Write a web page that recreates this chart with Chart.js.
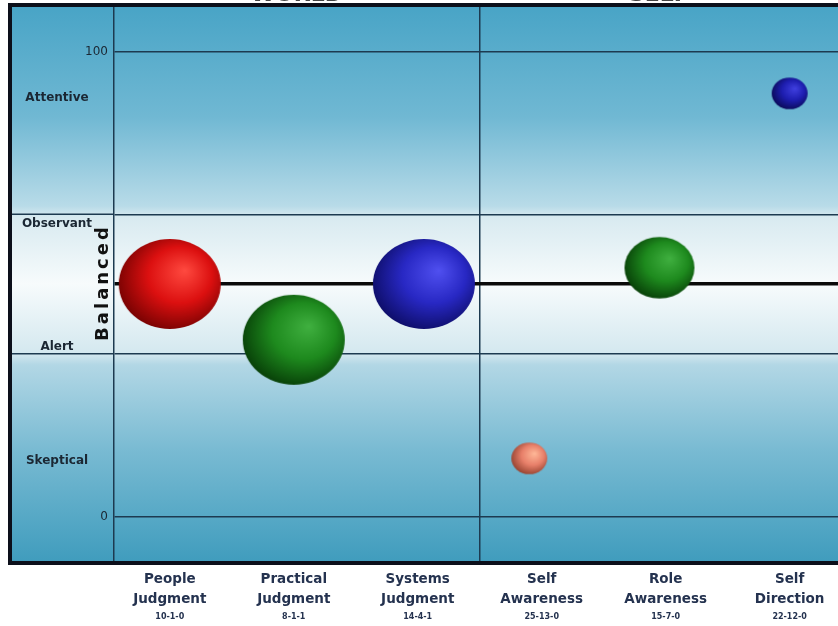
<!DOCTYPE html>
<html lang="en">
<head>
<meta charset="UTF-8">
<title>World / Self</title>
<script src="https://cdn.jsdelivr.net/npm/chart.js"></script>
<style>
  body { margin: 0; background: #fff; overflow: hidden; }
  canvas { display: block; }
</style>
</head>
<body>
<canvas id="chart" width="838" height="626"></canvas>
<script>
// categories along the bottom
const categories = [['People', 'Judgment'], ['Practical', 'Judgment'], ['Systems', 'Judgment'],
                    ['Self', 'Awareness'], ['Role', 'Awareness'], ['Self', 'Direction']];
const categoryCodes = ['10-1-0', '8-1-1', '14-4-1', '25-13-0', '15-7-0', '22-12-0'];
const sections = ['WORLD', 'SELF'];

// bubbles (x = category index, y = score, r = bubble radius)
const bubbleX = [0, 1, 2.05, 2.9, 3.95, 5];
const bubbleY = [50, 38, 50, 12.5, 53.5, 91];
const bubbleR = [51, 51, 51, 18, 35, 18];

// y axis
const yTicks = [0, 35, 50, 65, 100];
const bandLabels = ['Attentive', 'Observant', 'Alert', 'Skeptical'];
const bandValues = [90, 63, 36.5, 12];
const midLabel = 'Balanced';

// light / base / dark shade for each ball
const ballColors = [
  ['#ff4a40', '#dc1010', '#6a0000'],
  ['#40b040', '#1e8a1e', '#053505'],
  ['#5050f0', '#2828c4', '#0a0a5c'],
  ['#ffb898', '#e8806a', '#8a3a28'],
  ['#40b040', '#1e8a1e', '#053505'],
  ['#4040e0', '#1e1eb0', '#08084c']
];

const ink = '#1b2733';
const lineCol = '#1d3a50';
const frameLeft = 10;

function makeBall(r, c) {
  const squash = 0.88;
  const cv = document.createElement('canvas');
  cv.width = Math.ceil(r * 2 + 2);
  cv.height = Math.ceil(r * squash * 2 + 2);
  const g = cv.getContext('2d');
  g.translate(cv.width / 2, cv.height / 2);
  g.scale(1, squash);
  const grad = g.createRadialGradient(r * 0.3, -r * 0.3, 0, r * 0.1, -r * 0.1, r * 1.25);
  grad.addColorStop(0, c[0]);
  grad.addColorStop(0.5, c[1]);
  grad.addColorStop(1, c[2]);
  g.fillStyle = grad;
  g.beginPath();
  g.arc(0, 0, r, 0, Math.PI * 2);
  g.fill();
  return cv;
}
const balls = bubbleR.map((r, i) => makeBall(r, ballColors[i]));

// background gradient behind the whole frame
const backdrop = {
  id: 'backdrop',
  beforeDraw(chart) {
    const { ctx, chartArea: a } = chart;
    const g = ctx.createLinearGradient(0, a.top, 0, a.bottom);
    g.addColorStop(0, '#48a4c6');
    g.addColorStop(0.2, '#70b8d3');
    g.addColorStop(0.36, '#b8dbe8');
    g.addColorStop(0.38, '#d8eaf0');
    g.addColorStop(0.5, '#f7fbfc');
    g.addColorStop(0.625, '#d4e8ef');
    g.addColorStop(0.645, '#b2d7e5');
    g.addColorStop(0.8, '#78bad2');
    g.addColorStop(1, '#3f9cbd');
    ctx.save();
    ctx.fillStyle = g;
    ctx.fillRect(frameLeft, a.top, chart.width - frameLeft, a.bottom - a.top);
    ctx.restore();
  }
};

// labels, frame and extra text
const overlay = {
  id: 'overlay',
  afterDraw(chart) {
    const { ctx, chartArea: a, scales: { x, y } } = chart;
    ctx.save();

    // band lines reach into the label panel
    ctx.strokeStyle = lineCol;
    ctx.lineWidth = 1.5;
    [35, 65].forEach(v => {
      const py = y.getPixelForValue(v);
      ctx.beginPath();
      ctx.moveTo(frameLeft, py);
      ctx.lineTo(a.left, py);
      ctx.stroke();
    });

    // band names
    ctx.fillStyle = ink;
    ctx.font = 'bold 12px "DejaVu Sans"';
    ctx.textAlign = 'center';
    ctx.textBaseline = 'middle';
    bandLabels.forEach((t, i) => ctx.fillText(t, 57, y.getPixelForValue(bandValues[i])));

    // Balanced, rotated
    ctx.save();
    ctx.translate(a.left - 11, y.getPixelForValue(50));
    ctx.rotate(-Math.PI / 2);
    ctx.font = 'bold 18px "DejaVu Sans"';
    ctx.letterSpacing = '3px';
    ctx.fillStyle = '#111';
    ctx.fillText(midLabel, 1.5, 0);
    ctx.restore();

    // codes under category names
    ctx.font = 'bold 8px "DejaVu Sans"';
    ctx.fillStyle = '#24324f';
    categoryCodes.forEach((c, i) => ctx.fillText(c, x.getPixelForValue(i), a.bottom + 54));

    // section titles, mostly cut off at the top
    ctx.font = 'bold 22px "DejaVu Sans"';
    ctx.fillStyle = '#444';
    ctx.textBaseline = 'alphabetic';
    const mid = x.getPixelForValue(2.5);
    ctx.fillText(sections[0], (a.left + mid) / 2, 1);
    ctx.fillText(sections[1], (mid + a.right) / 2, 1);

    // frame
    ctx.strokeStyle = '#0c0f1a';
    ctx.lineWidth = 4;
    ctx.beginPath();
    ctx.moveTo(chart.width, a.top);
    ctx.lineTo(frameLeft, a.top);
    ctx.lineTo(frameLeft, a.bottom);
    ctx.lineTo(chart.width, a.bottom);
    ctx.stroke();
    ctx.restore();
  }
};

new Chart(document.getElementById('chart'), {
  type: 'bubble',
  data: {
    datasets: [{
      data: bubbleX.map((v, i) => ({ x: v, y: bubbleY[i], r: bubbleR[i] })),
      pointStyle: c => balls[c.dataIndex] || 'circle',
      backgroundColor: 'transparent',
      borderWidth: 0,
      clip: false
    }]
  },
  options: {
    responsive: false,
    animation: false,
    events: [],
    layout: { autoPadding: false, padding: { top: 5, left: 0, right: 0, bottom: 0 } },
    plugins: { legend: { display: false }, tooltip: { enabled: false } },
    scales: {
      x: {
        type: 'linear',
        min: -0.45,
        max: 5.39,
        afterBuildTicks: s => { s.ticks = [0, 1, 2, 2.5, 3, 4, 5].map(v => ({ value: v })); },
        afterFit: s => { s.height = 63; s.paddingLeft = 0; s.paddingRight = 0; },
        border: { display: false },
        grid: {
          drawTicks: false,
          color: c => c.tick && c.tick.value === 2.5 ? lineCol : 'transparent',
          lineWidth: 1.5
        },
        ticks: {
          autoSkip: false,
          maxRotation: 0,
          padding: 7,
          color: '#24324f',
          font: { family: 'DejaVu Sans', size: 13.5, weight: 'bold', lineHeight: 1.45 },
          callback: v => Number.isInteger(v) ? categories[v] : ''
        }
      },
      y: {
        min: -10,
        max: 110,
        afterBuildTicks: s => { s.ticks = yTicks.map(v => ({ value: v })); },
        afterFit: s => { s.width = 114; s.paddingTop = 0; s.paddingBottom = 0; },
        border: { color: lineCol, width: 1.5 },
        grid: {
          drawTicks: false,
          color: c => c.tick && c.tick.value === 50 ? '#0a0a0a' : lineCol,
          lineWidth: c => c.tick && c.tick.value === 50 ? 3.5 : 1.5
        },
        ticks: {
          autoSkip: false,
          padding: 6,
          color: ink,
          font: { family: 'DejaVu Sans', size: 12 },
          callback: v => (v === 0 || v === 100) ? String(v) : ''
        }
      }
    }
  },
  plugins: [backdrop, overlay]
});
</script>
</body>
</html>
